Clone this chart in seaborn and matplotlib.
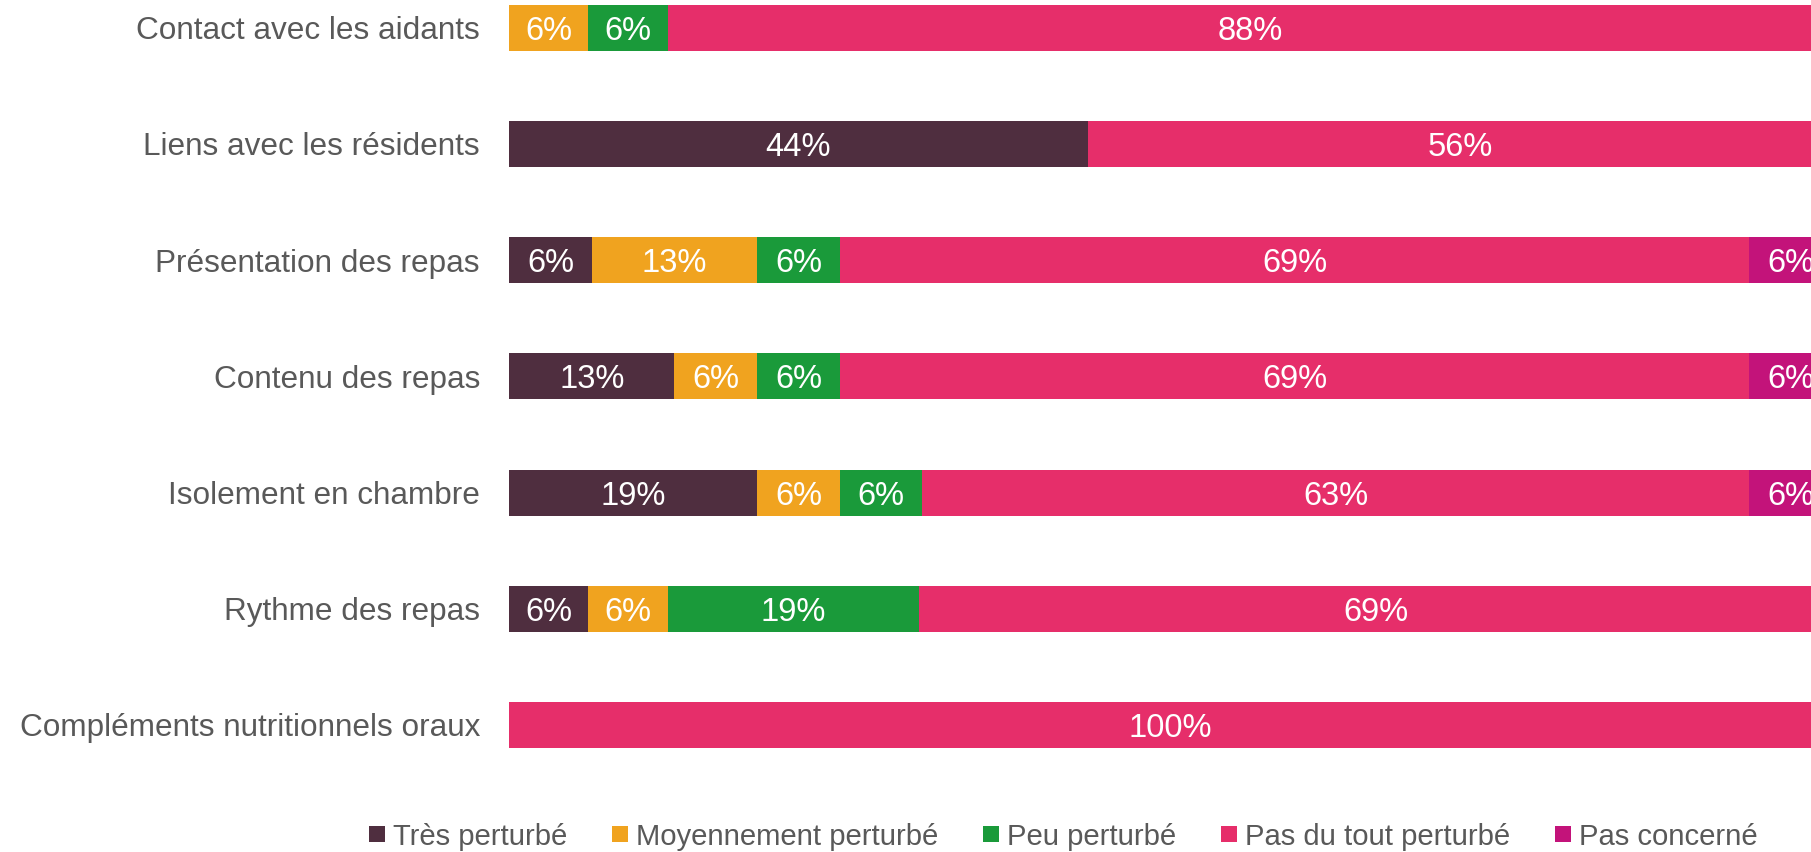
import numpy as np
import matplotlib
matplotlib.use("Agg")
import matplotlib.pyplot as plt
from matplotlib.lines import Line2D
import seaborn as sns

# Data (share of respondents, %)
categories = [
    "Contact avec les aidants",
    "Liens avec les résidents",
    "Présentation des repas",
    "Contenu des repas",
    "Isolement en chambre",
    "Rythme des repas",
    "Compléments nutritionnels oraux",
]
series_names = ["Très perturbé", "Moyennement perturbé", "Peu perturbé",
                "Pas du tout perturbé", "Pas concerné"]
tres = [0, 43.75, 6.25, 12.5, 18.75, 6, 0]
moyen = [6, 0, 12.5, 6.25, 6.25, 6, 0]
peu = [6, 0, 6.25, 6.25, 6.25, 19, 0]
pas_du_tout = [88, 56.25, 68.75, 68.75, 62.5, 69, 100]
pas_concerne = [0, 0, 6.25, 6.25, 6.25, 0, 0]

colors = ["#4F2E3F", "#F0A31F", "#1A9A3A", "#E62E6A", "#C3137A"]
text_grey = "#595959"

sns.set_style("white")
plt.rcParams["font.family"] = ["Liberation Sans", "DejaVu Sans"]

fig = plt.figure(figsize=(18.11, 8.52), dpi=100)
ax = fig.add_axes([0.2811, 0.0809, 0.7305, 0.9548])

series = [tres, moyen, peu, pas_du_tout, pas_concerne]
cum = np.cumsum(np.array(series, dtype=float), axis=0)

# stacked bars: draw cumulative totals from the largest down
for i in range(len(series) - 1, -1, -1):
    sns.barplot(x=cum[i], y=categories, order=categories, color=colors[i],
                saturation=1, width=0.396, errorbar=None, linewidth=0,
                orient="h", ax=ax)

# segment labels
for i, vals in enumerate(series):
    for j, v in enumerate(vals):
        if v <= 0:
            continue
        left = cum[i][j] - v
        ax.text(left + v / 2, j, f"{int(np.floor(v + 0.5))}%",
                ha="center", va="center_baseline", color="white",
                fontsize=23.5)

ax.set_xlim(0, 100)
ax.set_ylim(6.5, -0.5)
ax.set_xlabel("")
ax.set_ylabel("")
ax.set_xticks([])
ax.tick_params(axis="y", length=0, pad=21, labelsize=22.7, labelcolor=text_grey)
sns.despine(ax=ax, left=True, bottom=True)

handles = [Line2D([0], [0], marker="s", linestyle="none", markersize=11,
                  markerfacecolor=c, markeredgewidth=0) for c in colors]
fig.legend(handles, series_names, loc="center", bbox_to_anchor=(0.587, 0.018),
           ncol=5, frameon=False, fontsize=21.1, labelcolor=text_grey,
           handlelength=0.6, handletextpad=0.25, columnspacing=1.5)

fig.savefig("out.png", dpi=100)
